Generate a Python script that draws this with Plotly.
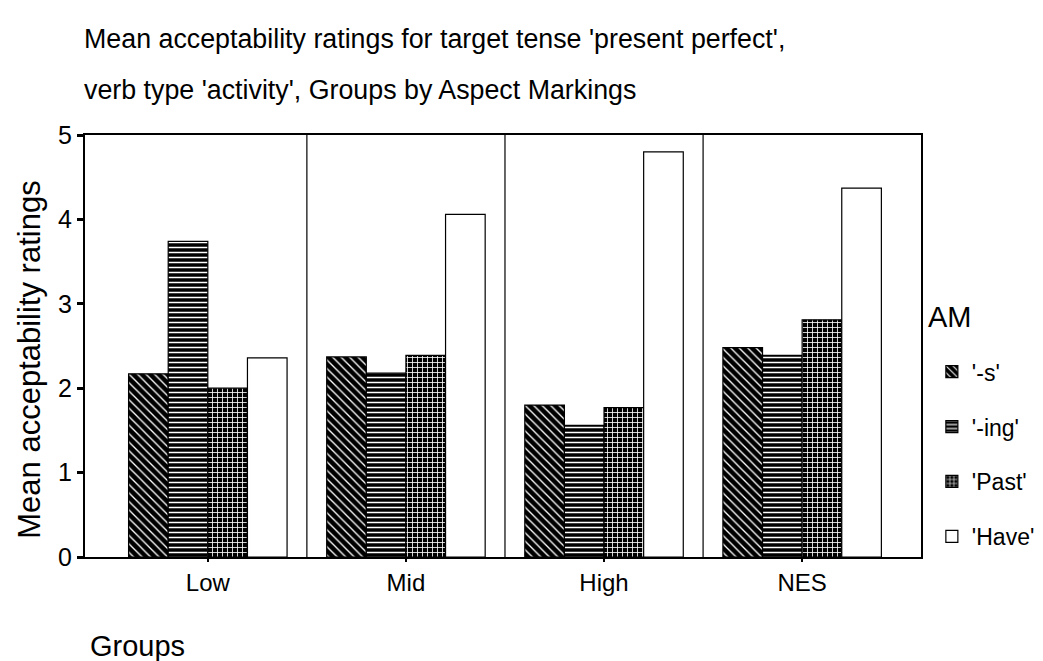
import plotly.graph_objects as go

groups = ["Low", "Mid", "High", "NES"]
series_names = ["'-s'", "'-ing'", "'Past'", "'Have'"]
vals_s = [2.17, 2.37, 1.80, 2.48]
vals_ing = [3.74, 2.18, 1.56, 2.39]
vals_past = [2.00, 2.39, 1.77, 2.81]
vals_have = [2.36, 4.06, 4.80, 4.37]
y_ticks = [0, 1, 2, 3, 4, 5]

FONT = "Liberation Sans, Arial, sans-serif"

styles = [
    dict(color="black", pattern=dict(shape="\\", bgcolor="black", fgcolor="white", size=6, solidity=0.22, fillmode="replace")),
    dict(color="black", pattern=dict(shape="-", bgcolor="black", fgcolor="white", size=5, solidity=0.3, fillmode="replace")),
    dict(color="black", pattern=dict(shape="+", bgcolor="black", fgcolor="white", size=5, solidity=0.3, fillmode="replace")),
    dict(color="white"),
]

fig = go.Figure()
for name, vals, st in zip(series_names, [vals_s, vals_ing, vals_past, vals_have], styles):
    fig.add_trace(go.Bar(
        x=groups, y=vals, name=name, legendgroup=name,
        marker=dict(line=dict(color="black", width=1.2), **st),
    ))

# separators between groups
for i in range(len(groups) - 1):
    fig.add_shape(type="line", xref="x", yref="y", x0=i + 0.5, x1=i + 0.5, y0=0, y1=5,
                  line=dict(color="black", width=1.2))

fig.add_annotation(text="Mean acceptability ratings for target tense 'present perfect',",
                   xref="paper", yref="paper", x=-0.004, y=1.227, xanchor="left", yanchor="middle",
                   showarrow=False, font=dict(family=FONT, size=26.8, color="black"))
fig.add_annotation(text="verb type 'activity', Groups by Aspect Markings",
                   xref="paper", yref="paper", x=-0.004, y=1.107, xanchor="left", yanchor="middle",
                   showarrow=False, font=dict(family=FONT, size=26.8, color="black"))
fig.add_annotation(text="Groups", xref="paper", yref="paper", x=0.003, y=-0.211,
                   xanchor="left", yanchor="middle", showarrow=False,
                   font=dict(family=FONT, size=29, color="black"))
fig.add_annotation(text="AM", xref="paper", yref="paper", x=1.006, y=0.568,
                   xanchor="left", yanchor="middle", showarrow=False,
                   font=dict(family=FONT, size=29, color="black"))
fig.add_annotation(text="Mean acceptability ratings", xref="paper", yref="paper",
                   x=-0.066, y=0.467, xanchor="center", yanchor="middle", textangle=-90,
                   showarrow=False, font=dict(family=FONT, size=31, color="black"))

# page body adds 8px margin; figure is sized so the plot sits where the reference has it
fig.update_layout(
    width=1035, height=653,
    margin=dict(l=77, r=122, t=127, b=104, autoexpand=False),
    paper_bgcolor="white", plot_bgcolor="white",
    font=dict(family=FONT, color="black"),
    barmode="group", bargap=0.2, bargroupgap=0,
    showlegend=True,
    legend=dict(
        font=dict(family=FONT, size=23, color="black"),
        x=1.013, xanchor="left", y=0.49, yanchor="top",
        tracegroupgap=22, bgcolor="rgba(0,0,0,0)",
    ),
    xaxis=dict(
        range=[-0.62, 3.6], showline=True, linecolor="black", linewidth=2, mirror=True,
        ticks="outside", ticklen=3, tickwidth=2, tickcolor="black",
        tickfont=dict(family=FONT, size=24, color="black"), showgrid=False,
    ),
    yaxis=dict(
        range=[0, 5], tickvals=y_ticks, showline=True, linecolor="black", linewidth=2, mirror=True,
        ticks="outside", ticklen=6, tickwidth=3, tickcolor="black",
        tickfont=dict(family=FONT, size=25, color="black"), showgrid=False, zeroline=False,
    ),
)

fig.write_html("out.html")
